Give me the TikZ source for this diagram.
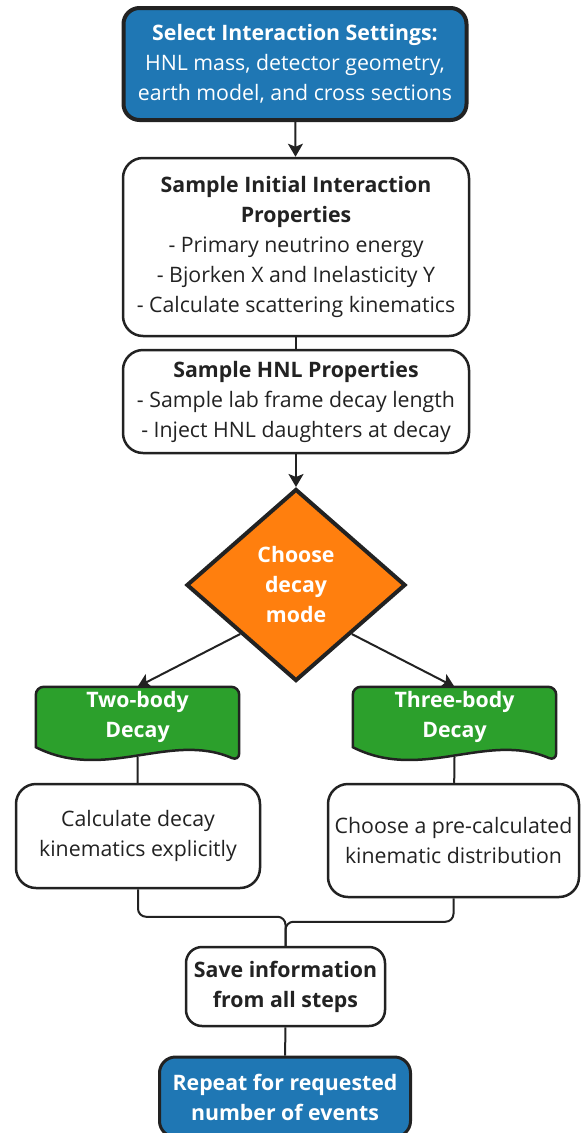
\documentclass[tikz,border=0pt]{standalone}
\usepackage{fontspec}
\setmainfont{Open Sans}
\usetikzlibrary{arrows.meta,shapes.geometric,backgrounds,calc,positioning}

\definecolor{hnlblue}{HTML}{1F77B4}
\definecolor{hnlgreen}{HTML}{2CA02C}
\definecolor{hnlorange}{HTML}{FF7F0E}
\definecolor{edgegray}{HTML}{222222}

% wavy document outline behind a decay node
\newcommand{\docwave}[1]{%
  \draw[docbox] (#1.south west) [rounded corners=8pt] -- (#1.north west) -- (#1.north east) -- ($(#1.south east)+(0,14)$) [sharp corners] .. controls +(-69,-30) and +(69,35) .. (#1.south west) -- cycle;}

\begin{document}
\begin{tikzpicture}[x=1pt,y=-1pt,
    every node/.style={font=\fontsize{21.3}{30}\selectfont, align=center, inner sep=0pt},
    startbox/.style={draw=edgegray, line width=4pt, fill=hnlblue, text=white, rounded corners=16pt},
    stepbox/.style={draw=edgegray, line width=2.5pt, fill=white, text=edgegray, rounded corners=20pt},
    choice/.style={diamond, aspect=1.14, draw=edgegray, line width=4pt, fill=hnlorange, text=white,
                   font=\fontsize{21.3}{30}\selectfont\bfseries, minimum width=219, minimum height=192},
    decay/.style={text=white, font=\fontsize{21.3}{30}\selectfont\bfseries, minimum width=203, minimum height=60},
    docbox/.style={draw=edgegray, line width=2.5pt, fill=hnlgreen},
    conn/.style={draw=edgegray, line width=2pt},
    arrow/.style={conn, -{Stealth[length=13pt,width=15pt,inset=3pt]}}]
  \useasboundingbox (0,0) rectangle (583,1133);
  \clip (0,0) rectangle (583,1133);

  \node[startbox, minimum width=343, minimum height=112] (settings) at (295,64)
    {\textbf{Select Interaction Settings:}\\HNL mass, detector geometry,\\earth model, and cross sections};
  \node[stepbox, minimum width=346, minimum height=178] (initial) at (296,247)
    {\textbf{Sample Initial Interaction}\\\textbf{Properties}\\- Primary neutrino energy\\- Bjorken X and Inelasticity Y\\- Calculate scattering kinematics};
  \node[stepbox, minimum width=346, minimum height=103] (hnl) at (296,401.5)
    {\textbf{Sample HNL Properties}\\- Sample lab frame decay length\\- Inject HNL daughters at decay};
  \node[choice] (mode) at (296,585) {Choose\\decay\\mode};

  \node[decay] (two) at (137.5,717) {Two-body\\Decay};
  \node[decay] (three) at (454.5,717) {Three-body\\Decay};
  \begin{scope}[on background layer]
    \docwave{two}
    \docwave{three}
  \end{scope}

  \node[stepbox, minimum width=244, minimum height=104] (explicit) at (138,836)
    {Calculate decay\\kinematics explicitly};
  \node[stepbox, minimum width=251, minimum height=113] (lookup) at (453.5,840.5)
    {Choose a pre-calculated\\kinematic distribution};

  \node[stepbox, font=\fontsize{21.3}{30}\selectfont\bfseries, rounded corners=16pt,
        minimum width=199, minimum height=79] (save) at (285.5,986.5)
    {Save information\\from all steps};
  \node[startbox, line width=3pt, minimum width=251, minimum height=80] (repeat) at (285,1097)
    {\textbf{Repeat for requested}\\\textbf{number of events}};

  \draw[arrow] (settings) -- (initial);
  \draw[conn] (initial) -- (hnl);
  \draw[arrow] (hnl) -- (mode);
  \draw[arrow] (mode.south west) -- (two.north);
  \draw[arrow] (mode.south east) -- (three.north);
  \draw[conn] ($(two.south)+(0,10)$) -- (explicit);
  \draw[conn] ($(three.south)+(0,10)$) -- (lookup);
  \draw[conn, rounded corners=8pt] (explicit.south) |- ($(save.north)+(0,-29)$) -- (save.north);
  \draw[conn, rounded corners=8pt] (lookup.south) |- ($(save.north)+(0,-24)$) -- (save.north);
  \draw[conn] (save) -- (repeat);
\end{tikzpicture}
\end{document}
